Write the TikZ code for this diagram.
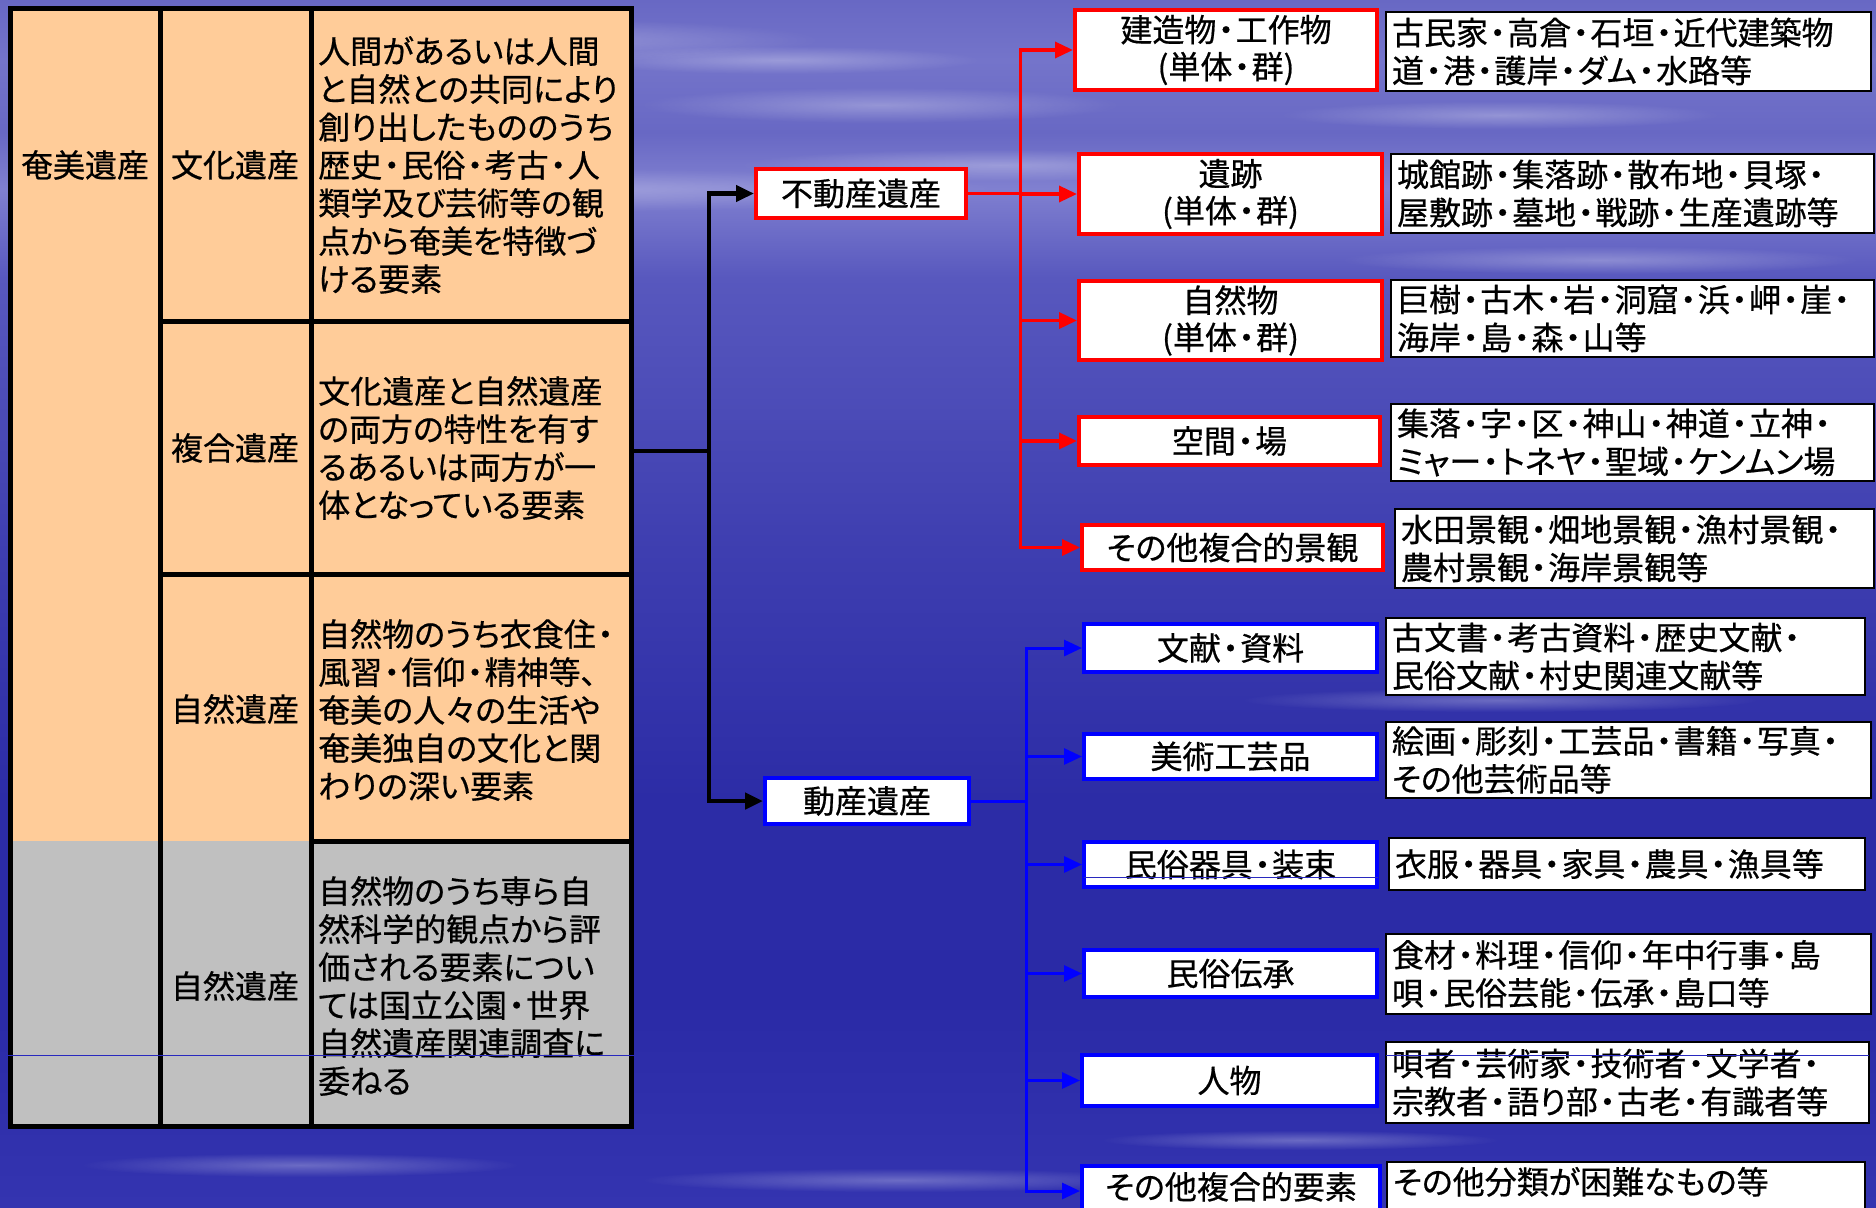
\documentclass[tikz,border=0pt]{standalone}
\usepackage{fontspec}
\setmainfont[RawFeature=+palt, FakeBold=0.6]{Noto Sans CJK JP}
\usetikzlibrary{arrows.meta,fadings}
\newcommand\jd{\makebox[0.6em]{・}}
\definecolor{bgA}{RGB}{52,52,176}
\definecolor{bgB}{RGB}{42,42,166}
\definecolor{bgC}{RGB}{44,44,166}
\definecolor{bgD}{RGB}{62,62,176}
\definecolor{bgE}{RGB}{88,88,190}
\definecolor{bgF}{RGB}{128,128,208}
\definecolor{bgG}{RGB}{104,104,196}
\definecolor{bgH}{RGB}{116,116,202}
\definecolor{tabor}{HTML}{FFCC99}
\definecolor{tabgr}{HTML}{C0C0C0}
\definecolor{artblue}{RGB}{40,40,190}
\pgfdeclareverticalshading{bgsh}{100bp}{color(0bp)=(bgA); color(25bp)=(bgA); color(33.6bp)=(bgB); color(41.9bp)=(bgC); color(52.2bp)=(bgD); color(63.5bp)=(bgE); color(67.2bp)=(bgF); color(69.5bp)=(bgG); color(72.5bp)=(bgH); color(75bp)=(bgG); color(100bp)=(bgG)}
\tikzfading[name=softell, inner color=transparent!0, outer color=transparent!100]
\tikzset{
  tline/.style={line width=5pt, black},
  ttext/.style={inner sep=0pt, align=left, anchor=west, font=\fontsize{32}{38}\selectfont},
  ctext/.style={inner sep=0pt, align=center},
  redbox/.style={draw=red, line width=4pt, fill=white, inner sep=0pt, align=center, font=\fontsize{32}{37}\selectfont},
  bluebox/.style={draw=blue, line width=4pt, fill=white, inner sep=0pt, align=center},
  descbox/.style={draw=black, line width=2pt, fill=white, inner xsep=6pt, inner ysep=0pt, align=left, font=\fontsize{32}{38}\selectfont},
  blkline/.style={line width=4.5pt, black},
  redline/.style={line width=3.5pt, red},
  blueline/.style={line width=3pt, blue},
  tip/.style={-{Triangle[length=18pt,width=16pt]}},
  streak/.style={white, opacity=0.28, path fading=softell}
}
\begin{document}
\begin{tikzpicture}[x=1pt,y=-1pt,font=\fontsize{32}{38}\selectfont]
\useasboundingbox (0,0) rectangle (1876,1207);
\clip (0,0) rectangle (1876,1207);
% background
\shade[shading=bgsh] (0,0) rectangle (1876,1207);
\fill[streak] (500,40) ellipse [x radius=320, y radius=22];
\fill[streak] (880,105) ellipse [x radius=240, y radius=18];
\fill[streak] (780,60) ellipse [x radius=200, y radius=14];
\fill[streak] (1000,165) ellipse [x radius=260, y radius=16];
\fill[streak] (500,190) ellipse [x radius=500, y radius=22];
\fill[streak] (1500,115) ellipse [x radius=220, y radius=14];
\fill[streak] (1600,260) ellipse [x radius=260, y radius=14];
\fill[streak] (1500,700) ellipse [x radius=260, y radius=12];
\fill[streak] (300,1165) ellipse [x radius=220, y radius=12];
\fill[streak] (900,1180) ellipse [x radius=260, y radius=12];
\fill[streak] (1300,1140) ellipse [x radius=200, y radius=10];

% table
\fill[tabor] (10,9) rectangle (631,841);
\fill[tabgr] (10,841) rectangle (631,1126);
\draw[tline] (10,9) rectangle (631,1126);
\draw[tline] (160,9) -- (160,1126);
\draw[tline] (311,9) -- (311,1126);
\draw[tline] (160,321) -- (631,321);
\draw[tline] (160,574) -- (631,574);
\draw[tline] (311,841) -- (631,841);

\node[ctext] (amami) at (85,165) {奄美遺産};
\node[ctext] (bunka) at (235,165) {文化遺産};
\node[ctext] (fukugo) at (235,448) {複合遺産};
\node[ctext] (shizen1) at (235,709) {自然遺産};
\node[ctext] (shizen2) at (235,986) {自然遺産};

\node[ttext] (t1) at (318,165) {人間があるいは人間\\と自然との共同により\\創り出したもののうち\\歴史\jd 民俗\jd 考古\jd 人\\類学及び芸術等の観\\点から奄美を特徴づ\\ける要素};
\node[ttext] (t2) at (318,448) {文化遺産と自然遺産\\の両方の特性を有す\\るあるいは両方が一\\体となっている要素};
\node[ttext] (t3) at (318,710) {自然物のうち衣食住\jd\\風習\jd 信仰\jd 精神等、\\奄美の人々の生活や\\奄美独自の文化と関\\わりの深い要素};
\node[ttext] (t4) at (318,986) {自然物のうち専ら自\\然科学的観点から評\\価される要素につい\\ては国立公園\jd 世界\\自然遺産関連調査に\\委ねる};

\coordinate (tabR) at (631,451);

% main category boxes
\node[redbox, minimum width=210pt, minimum height=49pt] (fudo) at (861,193.5) {不動産遺産};
\node[bluebox, minimum width=204pt, minimum height=46pt] (dosan) at (867,801) {動産遺産};

% red boxes
\node[redbox, minimum width=302pt, minimum height=80pt] (R1) at (1226,50) {建造物\jd 工作物\\(単体\jd 群)};
\node[redbox, minimum width=303pt, minimum height=80pt] (R2) at (1230.5,194) {遺跡\\(単体\jd 群)};
\node[redbox, minimum width=303pt, minimum height=79pt] (R3) at (1230.5,320.5) {自然物\\(単体\jd 群)};
\node[redbox, minimum width=301pt, minimum height=48pt] (R4) at (1229.5,441) {空間\jd 場};
\node[redbox, minimum width=301pt, minimum height=45pt] (R5) at (1232.5,547.5) {その他複合的景観};

% blue boxes
\node[bluebox, minimum width=293pt, minimum height=48pt] (B1) at (1230.5,648) {文献\jd 資料};
\node[bluebox, minimum width=293pt, minimum height=45pt] (B2) at (1230.5,756.5) {美術工芸品};
\node[bluebox, minimum width=293pt, minimum height=45pt] (B3) at (1230.5,864.5) {民俗器具\jd 装束};
\node[bluebox, minimum width=293pt, minimum height=47pt] (B4) at (1230.5,973.5) {民俗伝承};
\node[bluebox, minimum width=295pt, minimum height=51pt] (B5) at (1229.5,1080.5) {人物};
\node[bluebox, anchor=north, minimum width=298pt, text height=33pt, text depth=17pt] (B6) at (1231,1164) {その他複合的要素};

% description boxes (red side)
\node[descbox, minimum width=485pt, minimum height=79pt, text width=473pt] (D1) at (1628.5,51.5) {古民家\jd 高倉\jd 石垣\jd 近代建築物\\道\jd 港\jd 護岸\jd ダム\jd 水路等};
\node[descbox, minimum width=483pt, minimum height=79pt, text width=471pt] (D2) at (1632.5,193.5) {城館跡\jd 集落跡\jd 散布地\jd 貝塚\jd\\屋敷跡\jd 墓地\jd 戦跡\jd 生産遺跡等};
\node[descbox, minimum width=483pt, minimum height=77pt, text width=471pt] (D3) at (1632.5,318.5) {巨樹\jd 古木\jd 岩\jd 洞窟\jd 浜\jd 岬\jd 崖\jd\\海岸\jd 島\jd 森\jd 山等};
\node[descbox, minimum width=483pt, minimum height=77pt, text width=471pt] (D4) at (1632.5,442.5) {集落\jd 字\jd 区\jd 神山\jd 神道\jd 立神\jd\\ミャー\jd トネヤ\jd 聖域\jd ケンムン場};
\node[descbox, minimum width=479pt, minimum height=79pt, text width=467pt] (D5) at (1634.5,548.5) {水田景観\jd 畑地景観\jd 漁村景観\jd\\農村景観\jd 海岸景観等};

% description boxes (blue side)
\node[descbox, minimum width=479pt, minimum height=77pt, text width=467pt] (E1) at (1625.5,656.5) {古文書\jd 考古資料\jd 歴史文献\jd\\民俗文献\jd 村史関連文献等};
\node[descbox, minimum width=485pt, minimum height=76pt, text width=473pt] (E2) at (1628.5,760) {絵画\jd 彫刻\jd 工芸品\jd 書籍\jd 写真\jd\\その他芸術品等};
\node[descbox, minimum width=476pt, minimum height=52pt, text width=464pt] (E3) at (1627,864) {衣服\jd 器具\jd 家具\jd 農具\jd 漁具等};
\node[descbox, minimum width=485pt, minimum height=80pt, text width=473pt] (E4) at (1628.5,974) {食材\jd 料理\jd 信仰\jd 年中行事\jd 島\\唄\jd 民俗芸能\jd 伝承\jd 島口等};
\node[descbox, minimum width=483pt, minimum height=81pt, text width=471pt] (E5) at (1627.5,1082.5) {唄者\jd 芸術家\jd 技術者\jd 文学者\jd\\宗教者\jd 語り部\jd 古老\jd 有識者等};
\node[descbox, anchor=north, minimum width=478pt, text width=466pt, text height=32pt, text depth=40pt] (E6) at (1626,1161) {その他分類が困難なもの等};

% black connectors
\coordinate (fork) at (709,451);
\draw[blkline] (tabR) -- (fork);
\draw[blkline, tip] (fork) |- (fudo.west);
\draw[blkline, tip] (fork) |- (dosan.west);

% red connectors
\coordinate (rfork) at (1020.5,193.5);
\draw[redline] (fudo.east) -- (rfork);
\foreach \n in {R1,R2,R3,R4,R5} \draw[redline, tip] (rfork) |- (\n.west);

% blue connectors
\coordinate (bfork) at (1026.5,801);
\draw[blueline] (dosan.east) -- (bfork);
\foreach \n in {B1,B2,B3,B4,B5,B6} \draw[blueline, tip] (bfork) |- (\n.west);

% thin stray lines seen in the picture
\draw[artblue, line width=1pt] (6,1055) -- (634,1055);
\draw[artblue, line width=1pt] (1386,1055) -- (1869,1055);
\draw[artblue, line width=1pt] (1084,877) -- (1378,877);
\end{tikzpicture}
\end{document}
